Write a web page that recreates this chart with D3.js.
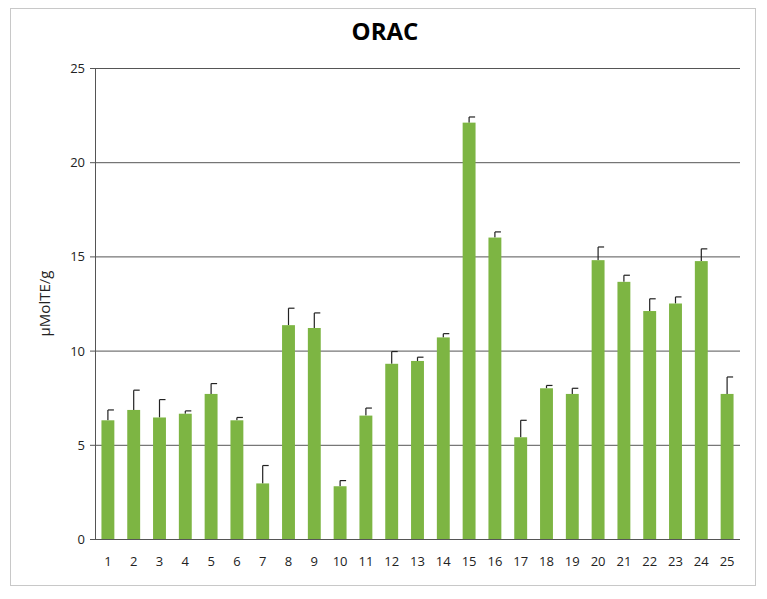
<!DOCTYPE html>
<html><head><meta charset="utf-8">
<script src="https://cdn.jsdelivr.net/npm/d3@7"></script>
<style>body{margin:0;background:#fff;font-family:"Open Sans",sans-serif}</style>
</head><body><div id="chart"></div>
<script>
const categories = d3.range(1, 26).map(String);
const values = [6.3, 6.85, 6.45, 6.65, 7.7, 6.3, 2.95, 11.35, 11.2, 2.8, 6.55, 9.3, 9.45, 10.7, 22.1, 16.0, 5.4, 8.0, 7.7, 14.8, 13.65, 12.1, 12.5, 14.75, 7.7];
const errTops = [6.85, 7.9, 7.4, 6.8, 8.25, 6.45, 3.9, 12.25, 12.0, 3.1, 6.95, 9.95, 9.65, 10.9, 22.4, 16.3, 6.3, 8.15, 8.0, 15.5, 14.0, 12.75, 12.85, 15.4, 8.6];
const yTicks = [0, 5, 10, 15, 20, 25];

const W = 767, H = 599;
const m = {left: 95, right: 740, top: 68, bottom: 539};
const svg = d3.select("#chart").append("svg").attr("width", W).attr("height", H);

svg.append("rect").attr("x", 10.5).attr("y", 8.5).attr("width", 745).attr("height", 577)
  .attr("fill", "#fff").attr("stroke", "#c8c8c8");

const x = d3.scaleBand().domain(categories).range([m.left, m.right]).paddingInner(0.5).paddingOuter(0.25);
const y = d3.scaleLinear().domain([0, 25]).range([m.bottom, m.top]);

// gridlines
svg.append("g").selectAll("line").data(yTicks).enter().append("line")
  .attr("x1", m.left - 5).attr("x2", m.right)
  .attr("y1", d => y(d) + 0.5).attr("y2", d => y(d) + 0.5)
  .attr("stroke", "#555").attr("stroke-width", 1);

svg.append("g").selectAll("text").data(yTicks).enter().append("text")
  .attr("x", m.left - 10).attr("y", d => y(d) + 5)
  .attr("text-anchor", "end").attr("font-size", 13).attr("fill", "#222")
  .text(d => d);

svg.append("line").attr("x1", m.left + 0.5).attr("x2", m.left + 0.5)
  .attr("y1", m.top).attr("y2", m.bottom).attr("stroke", "#555");

// error bars
const eb = svg.append("g").attr("stroke", "#222").attr("stroke-width", 1.2);
categories.forEach((c, i) => {
  const cx = x(c) + x.bandwidth() / 2;
  eb.append("line").attr("x1", cx).attr("x2", cx).attr("y1", y(values[i])).attr("y2", y(errTops[i]));
  eb.append("line").attr("x1", cx).attr("x2", cx + 6).attr("y1", y(errTops[i])).attr("y2", y(errTops[i]));
});

svg.append("g").selectAll("rect").data(values).enter().append("rect")
  .attr("x", (d, i) => x(categories[i])).attr("width", x.bandwidth())
  .attr("y", d => y(d)).attr("height", d => y(0) - y(d))
  .attr("fill", "#7db543");

svg.append("g").selectAll("text").data(categories).enter().append("text")
  .attr("x", d => x(d) + x.bandwidth() / 2).attr("y", m.bottom + 27)
  .attr("text-anchor", "middle").attr("font-size", 13).attr("fill", "#222")
  .text(d => d);

svg.append("text").attr("x", 385).attr("y", 40).attr("text-anchor", "middle")
  .attr("font-size", 24).attr("font-weight", "bold").text("ORAC");

svg.append("text").attr("transform", "translate(50," + ((m.top + m.bottom) / 2) + ") rotate(-90)")
  .attr("text-anchor", "middle").attr("font-size", 15).attr("fill", "#222").text("µMolTE/g");
</script></body></html>
